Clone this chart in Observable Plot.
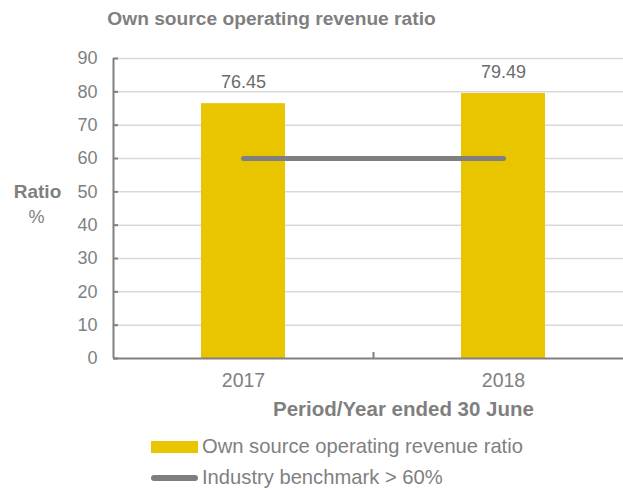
<!DOCTYPE html>
<html>
<head>
<meta charset="utf-8">
<script src="https://cdn.jsdelivr.net/npm/d3@7"></script>
<script src="https://cdn.jsdelivr.net/npm/@observablehq/plot@0.6"></script>
<style>
  html, body { margin: 0; padding: 0; background: #fff; overflow: hidden; width: 623px; height: 490px; }
  body { font-family: "Liberation Sans", Arial, sans-serif; position: relative; }
  #title { position: absolute; left: 0; top: 8px; width: 543px; text-align: center; font-weight: bold; font-size: 19.2px; color: #7f7f7f; }
  #chart { position: absolute; left: 0; top: 40px; }
  #legend { position: absolute; left: 151px; top: 431px; color: #7f7f7f; font-size: 20.2px; }
  .item { display: flex; align-items: center; height: 31px; }
  .sw { width: 47px; margin-right: 4px; }
</style>
</head>
<body>
<div id="title">Own source operating revenue ratio</div>
<div id="chart"></div>
<div id="legend">
  <div class="item"><div class="sw" style="height:12px;background:#E9C500"></div><span>Own source operating revenue ratio</span></div>
  <div class="item"><div class="sw" style="height:6px;border-radius:3px;background:#7f7f7f"></div><span>Industry benchmark &gt; 60%</span></div>
</div>
<script>
const years = ["2017", "2018"];
const ratio = [76.45, 79.49];
const benchmark = [60, 60];
const yTicks = [0, 10, 20, 30, 40, 50, 60, 70, 80, 90];

const bars = years.map((y, i) => ({year: y, value: ratio[i]}));
const bench = years.map((y, i) => ({year: y, value: benchmark[i]}));

const W = 623, ML = 113, MR = -10;
const pIn = 1 - 84 / 260, pOut = pIn / 2;
const xs = d3.scaleBand(years, [ML, W - MR]).paddingInner(pIn).paddingOuter(pOut);
const half = xs.step() / 2;
const toLeft = ML - (xs(years[0]) + xs.bandwidth() / 2);

const chart = Plot.plot({
  width: W,
  height: 385,
  marginTop: 18,
  marginBottom: 67,
  marginLeft: ML,
  marginRight: MR,
  style: {fontFamily: "Liberation Sans, Arial, sans-serif", fontSize: "18px", color: "#7f7f7f", background: "transparent"},
  x: {type: "band", domain: years, paddingInner: pIn, paddingOuter: pOut, label: null},
  y: {domain: [0, 90], label: null},
  marks: [
    Plot.ruleY(yTicks.filter(d => d > 0), {stroke: "#d9d9d9", strokeWidth: 1.5}),
    Plot.barY(bars, {x: "year", y: "value", fill: "#E9C500"}),
    Plot.line(bench, {x: "year", y: "value", stroke: "#7f7f7f", strokeWidth: 5, strokeLinecap: "round"}),
    Plot.text(bars, {x: "year", y: "value", text: d => d.value.toFixed(2), dy: -21, fill: "#6b6b6b", fontSize: 18}),
    Plot.ruleX([years[0]], {y1: 0, y2: 90, dx: toLeft, stroke: "#808080", strokeWidth: 2}),
    Plot.axisY({ticks: yTicks, tickSize: -5, tickPadding: 21, stroke: "#808080", strokeWidth: 2, fill: "#7f7f7f", fontSize: 18, label: null}),
    Plot.axisX({tickSize: 0, tickPadding: 15, fill: "#7f7f7f", fontSize: 19.5, label: null}),
    Plot.ruleY([0], {stroke: "#808080", strokeWidth: 2}),
    Plot.ruleX([years[1]], {y1: 0, y2: 1.8, dx: -half, stroke: "#808080", strokeWidth: 2}),
    Plot.text(["Period/Year ended 30 June"], {frameAnchor: "bottom", lineAnchor: "middle", dy: 51, dx: 30, fontWeight: "bold", fill: "#7f7f7f", fontSize: 20.5}),
    Plot.text(["Ratio"], {frameAnchor: "left", textAnchor: "middle", lineAnchor: "middle", dx: -76, dy: -17, fontWeight: "bold", fill: "#7f7f7f", fontSize: 19}),
    Plot.text(["%"], {frameAnchor: "left", textAnchor: "middle", lineAnchor: "middle", dx: -77, dy: 9, fill: "#7f7f7f", fontSize: 18})
  ]
});
document.getElementById("chart").appendChild(chart);
</script>
</body>
</html>
